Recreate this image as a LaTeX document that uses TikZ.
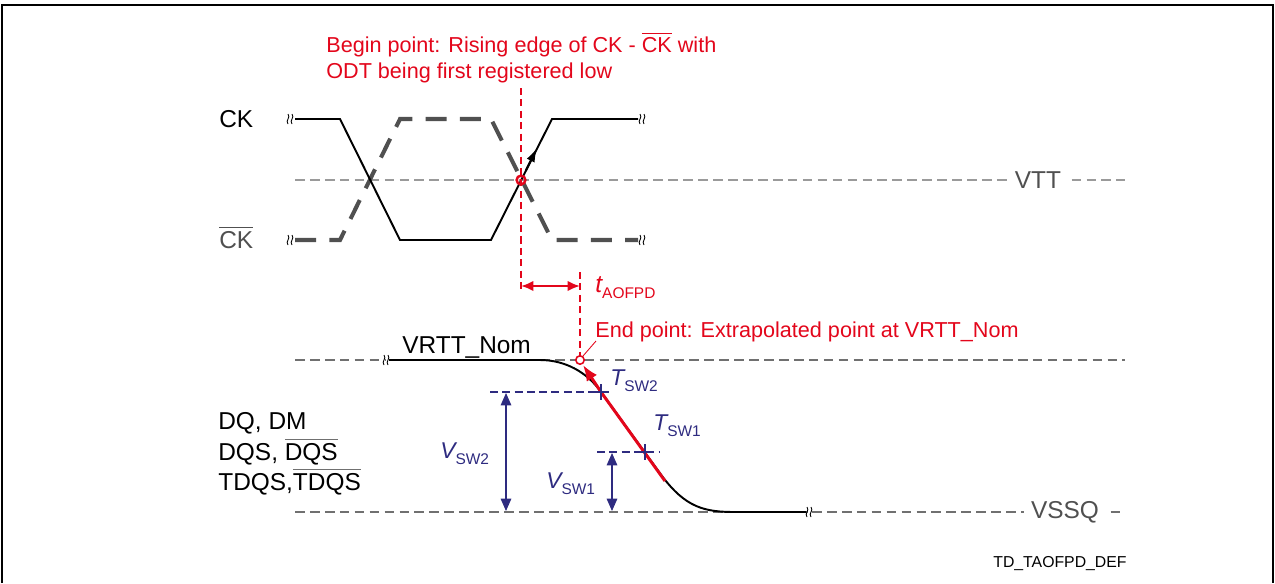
\documentclass[tikz,border=0pt]{standalone}
\usepackage{fontspec}
\setmainfont{Liberation Sans}
\usetikzlibrary{arrows.meta}
\definecolor{ired}{HTML}{E3061B}
\definecolor{inavy}{HTML}{2E2B80}
\definecolor{igray}{HTML}{505050}
\definecolor{ilgray}{HTML}{9A9A9A}
\definecolor{imgray}{HTML}{707070}
\newcommand\olin[2][black]{\leavevmode\vbox{{\color{#1}\hrule height 0.6pt}\kern1.6pt\hbox{#2}}}
\newcommand\subs[1]{\raisebox{-0.55ex}{\fontsize{8.8}{9}\selectfont #1}}
\begin{document}
\begin{tikzpicture}[x=0.02cm,y=-0.02cm,
  font=\fontsize{12.3}{14.8}\selectfont,
  lbl/.style={inner sep=0pt, anchor=base west},
  big/.style={font=\fontsize{13.9}{16}\selectfont},
  sig/.style={line width=1.1pt, black, line join=miter},
  sigbar/.style={line width=2.3pt, igray, dash pattern=on 12pt off 7.5pt},
  refl/.style={ilgray, line width=0.7pt, dash pattern=on 5.5pt off 3pt},
  refd/.style={imgray, line width=0.6pt, dash pattern=on 5.5pt off 3pt},
  redd/.style={ired, line width=0.6pt, dash pattern=on 4pt off 2.5pt},
  navyd/.style={inavy, line width=0.6pt, dash pattern=on 4.5pt off 2.5pt},
  vdim/.style={inavy, line width=0.6pt, {Triangle[length=7pt,width=6pt]}-{Triangle[length=7pt,width=6pt]}},
  brk/.pic={\draw[line width=0.5pt] (-2,5) .. controls (-5,1) and (1,-1) .. (-2,-5) (2,5) .. controls (-1,1) and (5,-1) .. (2,-5);}
]
\useasboundingbox (0,0) rectangle (1275,583);
% frame
\draw[line width=1pt] (2,583) -- (2,5) -- (1273,5) -- (1273,583);

% reference lines
\draw[refl] (295,180) -- (1125,180);
\node[big, fill=white, inner xsep=4pt, inner ysep=2pt, text=igray] (vtt) at (1038,180) {VTT};
\draw[refd] (295,360) -- (385,360);
\draw[refd] (540,360) -- (1125,360);
\draw[refd] (295,512) -- (808,512);
\draw[refd] (812,512) -- (1125,512);
\node[big, fill=white, inner xsep=4pt, inner ysep=2pt, text=igray] (vssq) at (1065,512) {VSSQ};

% CK bar dashed
\draw[sigbar] (295,240) -- (340,240) -- (400,119) -- (491,119) -- (552,240) -- (638,240);
% CK solid
\draw[sig] (295,119) -- (340,119) -- (400,240) -- (491,240) -- (552,119) -- (638,119);
\draw[-{Latex[length=8pt,width=5pt]}, line width=1.1pt] (526,170) -- (537,148);
\pic at (290,119) {brk};
\pic at (642,119) {brk};
\pic at (290,240) {brk};
\pic at (642,240) {brk};

% labels
\node[lbl, big] (ck) at (219,127) {CK};
\node[lbl, big, text=igray] (ckb) at (219,248) {\olin[igray]{CK}};

% begin point
\node[lbl, text=ired] (bp1) at (326,52) {Begin point: Rising edge of CK - \olin[ired]{CK} with};
\node[lbl, text=ired] (bp2) at (326,78) {ODT being first registered low};
\coordinate (b) at (521,180);
\coordinate (e) at (580,360);
\draw[redd] (521,88) -- (521,292);
\draw[redd] (580,272) -- (580,356);
\draw[ired, line width=1.3pt, {Latex[length=7pt,width=6pt]}-{Latex[length=7pt,width=6pt]}] (521,286) -- (580,286);
\node[lbl, text=ired] (taofpd) at (595,292) {{\fontsize{14}{15}\selectfont\itshape t}\subs{AOFPD}};
\node[lbl, text=ired] (ep) at (595,337) {End point: Extrapolated point at VRTT\_Nom};
\draw[ired, line width=0.5pt] (583,356) -- (596,341);

% DQ waveform
\draw[sig] (389,360) -- (540,360) .. controls (565,360) and (587,372) .. (601,392) -- (662,476) .. controls (686,508) and (705,512) .. (735,512) -- (806,512);
\pic at (386,360) {brk};
\pic at (809,512) {brk};
\node[lbl, big] (vrtt) at (402,353) {VRTT\_Nom};

% switch levels
\draw[navyd] (490,392) -- (603,392);
\draw[navyd] (597,452) -- (660,452);
\draw[vdim] (506,393) -- (506,511);
\draw[vdim] (612,453) -- (612,511);

% red segment + extrapolation
\draw[ired, line width=1.7pt] (665,481) -- (601,392);
\draw[ired, line width=1.7pt, -{Latex[length=9pt,width=7pt]}] (601,392) -- (583,365);
\draw[ired, line width=0.9pt, fill=white] (e) circle (2.4pt);
\draw[ired, line width=1.4pt] (b) circle (2.5pt);

% crosses
\draw[inavy, line width=1.2pt] (593,392) -- (609,392) (601,384) -- (601,400);
\draw[inavy, line width=1.2pt] (637,452) -- (653,452) (645,444) -- (645,460);

% switch labels
\node[lbl, text=inavy] (tsw2) at (610,385) {{\fontsize{13}{15}\selectfont\itshape T}\subs{SW2}};
\node[lbl, text=inavy] (tsw1) at (653,430) {{\fontsize{13}{15}\selectfont\itshape T}\subs{SW1}};
\node[lbl, text=inavy] (vsw2) at (440,458) {{\fontsize{13}{15}\selectfont\itshape V}\subs{SW2}};
\node[lbl, text=inavy] (vsw1) at (546,488) {{\fontsize{13}{15}\selectfont\itshape V}\subs{SW1}};

% DQ labels
\node[lbl, big] (dq) at (218,429) {DQ, DM};
\node[lbl, big] (dqs) at (218,460) {DQS, \olin[imgray]{DQS}};
\node[lbl, big] (tdqs) at (218,490) {TDQS,\olin[imgray]{TDQS}};

\node[lbl, font=\fontsize{9}{10}\selectfont] (td) at (993,567) {TD\_TAOFPD\_DEF};
\end{tikzpicture}
\end{document}
